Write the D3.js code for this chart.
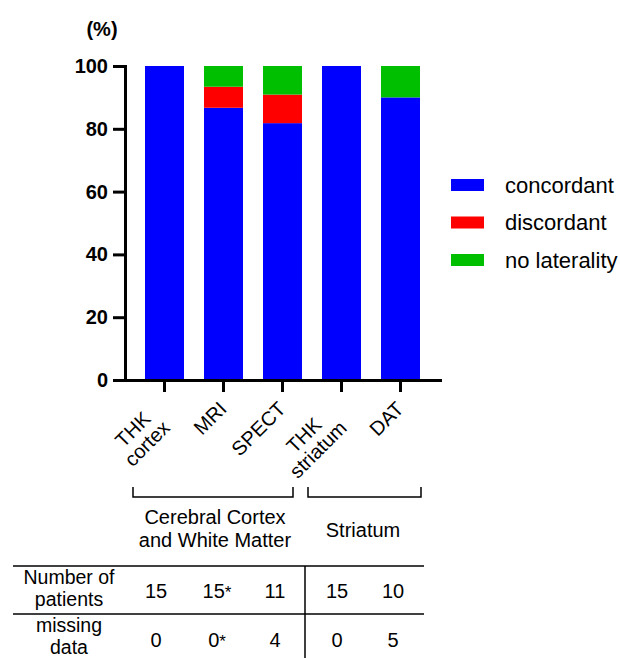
<!DOCTYPE html>
<html>
<head>
<meta charset="utf-8">
<script src="https://cdn.jsdelivr.net/npm/d3@7"></script>
<style>
  html, body { margin: 0; padding: 0; background: #fff; }
  svg { display: block; font-family: "Liberation Sans", Arial, sans-serif; }
</style>
</head>
<body>
<svg id="chart" width="620" height="658"></svg>
<script>
// ---------- data ----------
const categories = ["THK cortex", "MRI", "SPECT", "THK striatum", "DAT"];
const categoryLines = [["THK", "cortex"], ["MRI"], ["SPECT"], ["THK", "striatum"], ["DAT"]];
const concordant = [100, 86.7, 81.8, 100, 90];
const discordant = [0, 6.7, 9.1, 0, 0];
const noLaterality = [0, 6.6, 9.1, 0, 10];
const seriesNames = ["concordant", "discordant", "no laterality"];
const seriesColors = ["#0000ff", "#ff0000", "#00bf00"];
const yTicks = [0, 20, 40, 60, 80, 100];
const groupNames = [["Cerebral Cortex", "and White Matter"], ["Striatum"]];
const rowLabels = [["Number of", "patients"], ["missing", "data"]];
const numberOfPatients = ["15", "15*", "11", "15", "10"];
const missingData = ["0", "0*", "4", "0", "5"];

// ---------- layout ----------
const svg = d3.select("#chart");
const x = d3.scaleBand().domain(categories).range([125, 440]).paddingInner(0.339).paddingOuter(0.339);
const y = d3.scaleLinear().domain([0, 100]).range([380, 66]);

const rows = categories.map((c, i) => ({
  cat: c, concordant: concordant[i], discordant: discordant[i], "no laterality": noLaterality[i]
}));
const stacked = d3.stack().keys(seriesNames)(rows);
const color = d3.scaleOrdinal().domain(seriesNames).range(seriesColors);

// bars
svg.append("g").selectAll("g").data(stacked).join("g")
  .attr("fill", d => color(d.key))
  .selectAll("rect").data(d => d).join("rect")
  .attr("x", d => x(d.data.cat))
  .attr("width", x.bandwidth())
  .attr("y", d => y(d[1]))
  .attr("height", d => y(d[0]) - y(d[1]));

// y axis
const yAxis = svg.append("g").attr("transform", "translate(125,0)")
  .call(d3.axisLeft(y).tickValues(yTicks).tickSize(12).tickSizeOuter(0).tickPadding(5));
yAxis.select(".domain").attr("stroke-width", 3).attr("stroke-linecap", "square");
yAxis.selectAll(".tick line").attr("stroke-width", 3);
yAxis.selectAll(".tick text").attr("font-size", 20).attr("font-weight", "bold")
  .attr("font-family", "Liberation Sans, Arial, sans-serif").attr("fill", "#000");

// x axis
const xAxis = svg.append("g").attr("transform", "translate(0,380)")
  .call(d3.axisBottom(x).tickSize(12).tickSizeOuter(0).tickFormat(""));
xAxis.select(".domain").attr("stroke-width", 3).attr("stroke-linecap", "square");
xAxis.selectAll(".tick line").attr("stroke-width", 3);

// rotated x labels (lines centred on each other, block right-aligned)
categories.forEach((c, i) => {
  const cx = x(c) + x.bandwidth() / 2;
  const lines = categoryLines[i];
  const multi = lines.length > 1;
  const ax = multi ? cx - 7.5 : cx + 4.5;
  const ay = multi ? 415 : 410;
  const t = svg.append("text").attr("transform", `translate(${ax},${ay}) rotate(-45)`)
    .attr("font-size", 20).attr("text-anchor", "middle");
  const spans = lines.map((s, k) => t.append("tspan").text(s).attr("y", k * 20));
  const w = d3.max(spans.map(s => s.node().getComputedTextLength()));
  spans.forEach(s => s.attr("x", -w / 2));
});

// "(%)"
svg.append("text").attr("x", 102).attr("y", 36).attr("text-anchor", "middle")
  .attr("font-size", 20).attr("font-weight", "bold").text("(%)");

// group brackets
const bracketX = [[133, 293], [308, 421]];
const groupLabelX = [215, 363];
const groupLabelY = [524, 537];
groupNames.forEach((names, gi) => {
  const [x0, x1] = bracketX[gi];
  svg.append("path").attr("d", `M${x0},487V497H${x1}V487`)
    .attr("fill", "none").attr("stroke", "#000").attr("stroke-width", 1.5);
  const t = svg.append("text").attr("y", groupLabelY[gi]).attr("text-anchor", "middle").attr("font-size", 20);
  names.forEach((s, k) => t.append("tspan").attr("x", groupLabelX[gi]).attr("dy", k === 0 ? 0 : 23).text(s));
});

// table
const colX = [156, 217, 275, 337, 393];
const hl = (yy) => svg.append("line").attr("x1", 13).attr("x2", 424).attr("y1", yy).attr("y2", yy)
  .attr("stroke", "#000").attr("stroke-width", 1.5);
hl(566); hl(614);
svg.append("line").attr("x1", 305).attr("x2", 305).attr("y1", 566).attr("y2", 658)
  .attr("stroke", "#000").attr("stroke-width", 1.5);

const tableRows = [numberOfPatients, missingData];
const rowLabelBase = [584, 632];
const rowValueBase = [598, 647];
tableRows.forEach((vals, r) => {
  const lt = svg.append("text").attr("y", rowLabelBase[r]).attr("text-anchor", "middle").attr("font-size", 19.5);
  rowLabels[r].forEach((s, k) => lt.append("tspan").attr("x", 69).attr("dy", k === 0 ? 0 : 21.5).text(s));
  vals.forEach((v, i) => {
    const star = v.endsWith("*");
    const t = svg.append("text").attr("x", colX[i]).attr("y", rowValueBase[r]).attr("font-size", 20)
      .attr("text-anchor", "middle");
    t.append("tspan").text(v.replace("*", ""));
    if (star) t.append("tspan").text("*").attr("font-size", 17);
  });
});

// legend
const legend = svg.append("g");
seriesNames.forEach((s, i) => {
  const ly = 185 + i * 37.5;
  legend.append("rect").attr("x", 451).attr("y", ly - 6).attr("width", 33).attr("height", 12).attr("fill", color(s));
  legend.append("text").attr("x", 505).attr("y", ly + 7.5).attr("font-size", 22).text(s);
});
</script>
</body>
</html>
